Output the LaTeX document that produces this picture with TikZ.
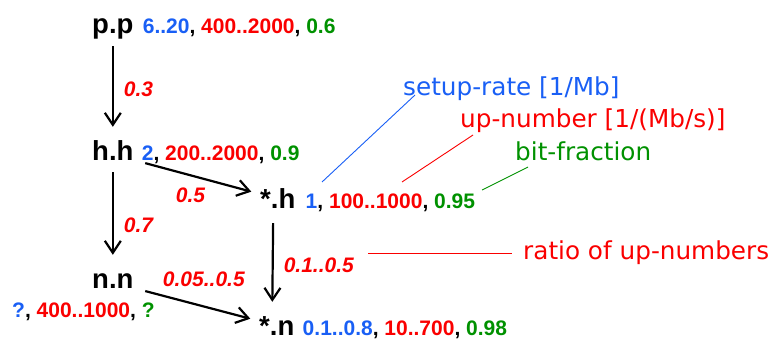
\documentclass[tikz,border=0pt]{standalone}
\usepackage{fontspec}
\setmainfont{Liberation Sans}
\newfontfamily\notefont{DejaVu Sans}
\usetikzlibrary{arrows.meta, positioning}
\definecolor{blue1}{RGB}{25, 95, 245}
\definecolor{red1}{RGB}{250, 0, 0}
\definecolor{green1}{RGB}{0, 145, 0}
\newcommand{\triple}[3]{\textcolor{blue1}{#1}, \textcolor{red1}{#2}, \textcolor{green1}{#3}}

\begin{document}
\begin{tikzpicture}[x=1pt, y=-1pt,
  class/.style={font=\fontsize{27.5}{30}\selectfont\bfseries, inner sep=0pt, text height=28pt, text depth=0pt},
  vals/.style={font=\fontsize{21}{24}\selectfont\bfseries, inner sep=0pt},
  prob/.style={font=\fontsize{21}{24}\selectfont\bfseries\itshape, text=red1, inner sep=2pt},
  note/.style={font=\notefont\fontsize{24.7}{28}\selectfont, inner sep=0pt},
  flow/.style={line width=2.2pt, -{Straight Barb[length=12pt, width=16pt]}, shorten <=13pt, shorten >=5pt},
  lead/.style={line width=0.9pt}]
  \useasboundingbox (0,0) rectangle (776,340);

  % classes with their values
  \node[class, anchor=base west] (pp) at (92,33) {p.p};
  \node[vals, base right=9pt of pp] (ppval) {\triple{6..20}{400..2000}{0.6}};
  \node[class, anchor=base west] (hh) at (92,160) {h.h};
  \node[vals, base right=8pt of hh] (hhval) {\triple{2}{200..2000}{0.9}};
  \node[class, anchor=base west] (nn) at (92,288) {n.n};
  \node[vals, anchor=base west] (nnval) at (12,317) {\triple{?}{400..1000}{?}};
  \node[class, anchor=base west] (sh) at (260,208) {*.h};
  \node[vals, base right=10pt of sh] (shval) {\triple{1}{100..1000}{0.95}};
  \node[class, anchor=base west] (sn) at (259,335) {*.n};
  \node[vals, base right=8pt of sn] (snval) {\triple{0.1..0.8}{10..700}{0.98}};

  % transitions
  \draw[flow] (pp.south) -- node[prob, right=8pt, pos=0.57] {0.3} (hh.north);
  \draw[flow, shorten <=12pt] (hh.south) -- node[prob, right=8pt, pos=0.65] {0.7} (nn.north);
  \draw[flow, shorten <=12pt, shorten >=9pt] (hh.base east) -- node[prob, below=9pt, pos=0.45] {0.5} (sh.west);
  \draw[flow, shorten <=12pt, shorten >=9pt] (nn.base east) -- node[prob, above=17pt, pos=0.56] {0.05..0.5} (sn.west);
  \draw[flow, shorten <=15pt] ([xshift=-4.5pt]sh.south) -- node[prob, right=8pt, pos=0.58] {0.1..0.5} ([xshift=-4.5pt]sn.north);

  % legend
  \node[note, text=blue1, anchor=base west] (rate) at (403,95) {setup-rate [1/Mb]};
  \node[note, text=red1, anchor=base west] (upnum) at (460,127) {up-number [1/(Mb/s)]};
  \node[note, text=green1, anchor=base west] (bitfrac) at (515,160) {bit-fraction};
  \node[note, text=red1, anchor=west] (ratio) at (523,253) {ratio of up-numbers};
  \coordinate (ratefoot) at (322,182);
  \coordinate (upfoot) at (402,182);
  \coordinate (bitfoot) at (482,190);
  \coordinate (ratiofoot) at (368,253);
  \draw[lead, blue1] (ratefoot) -- ([xshift=12pt]rate.base west);
  \draw[lead, red1] (upfoot) -- ([xshift=13pt, yshift=-8pt]upnum.base west);
  \draw[lead, green1] (bitfoot) -- ([xshift=13pt, yshift=-7pt]bitfrac.base west);
  \draw[lead, red1, shorten >=11pt] (ratiofoot) -- (ratio.west);
\end{tikzpicture}
\end{document}
